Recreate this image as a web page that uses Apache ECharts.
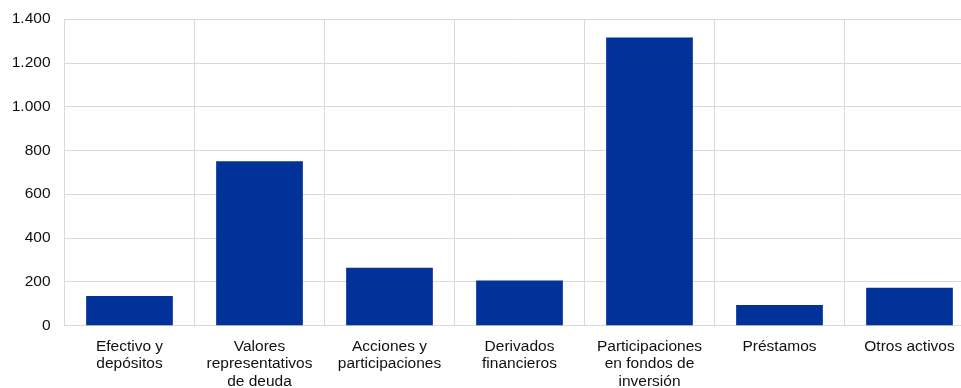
<!DOCTYPE html>
<html>
<head>
<meta charset="utf-8">
<script src="https://cdn.jsdelivr.net/npm/echarts@6/dist/echarts.min.js"></script>
<style>
  html, body { margin: 0; padding: 0; background: #fff; }
  #chart { width: 961px; height: 388px; }
</style>
</head>
<body>
<div id="chart"></div>
<script>
// Asset categories (axis labels, wrapped as shown)
const categories = [
  'Efectivo y\ndepósitos',
  'Valores\nrepresentativos\nde deuda',
  'Acciones y\nparticipaciones',
  'Derivados\nfinancieros',
  'Participaciones\nen fondos de\ninversión',
  'Préstamos',
  'Otros activos'
];
// Amounts per category
const values = [134, 750, 263, 205, 1315, 93, 172];
// Value axis range
const yMin = 0;
const yMax = 1400;
const yStep = 200;

const chart = echarts.init(document.getElementById('chart'), null, { renderer: 'canvas' });

function fmtThousands(v) {
  return String(v).replace(/\B(?=(\d{3})+(?!\d))/g, '.');
}

const labelFont = 'Liberation Sans, Arial, sans-serif';

chart.setOption({
  animation: false,
  backgroundColor: '#ffffff',
  grid: {
    left: 64.5, top: 19, width: 910, height: 306.3,
    containLabel: false,
    outerBoundsMode: 'none'
  },
  xAxis: {
    type: 'category',
    data: categories,
    axisLine: { show: true, lineStyle: { color: '#d9d9d9', width: 1 } },
    axisTick: { show: false },
    splitLine: { show: true, lineStyle: { color: '#d9d9d9', width: 1 } },
    axisLabel: {
      interval: 0,
      color: '#111111',
      fontFamily: labelFont,
      fontSize: 15.5,
      lineHeight: 17.5,
      margin: 12.5
    }
  },
  yAxis: {
    type: 'value',
    min: yMin,
    max: yMax,
    interval: yStep,
    axisLine: { show: false },
    axisTick: { show: false },
    splitLine: { show: true, lineStyle: { color: '#d9d9d9', width: 1 } },
    axisLabel: {
      color: '#111111',
      fontFamily: labelFont,
      fontSize: 15.5,
      margin: 14,
      formatter: fmtThousands
    }
  },
  series: [{
    type: 'bar',
    data: values,
    barWidth: '66.7%',
    itemStyle: { color: '#003299' }
  }]
});
</script>
</body>
</html>
